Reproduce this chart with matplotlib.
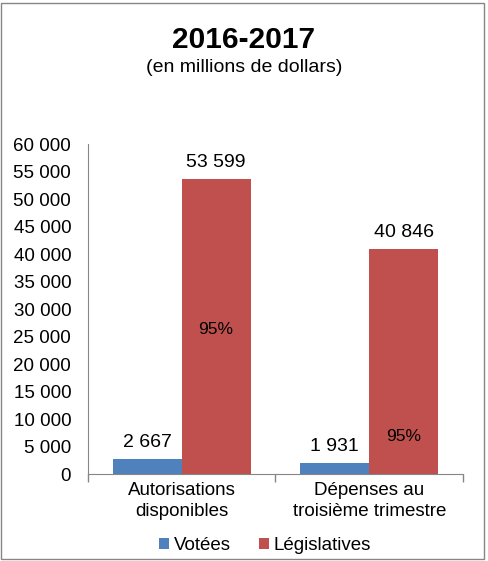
import matplotlib
matplotlib.use('Agg')
import matplotlib.pyplot as plt
from matplotlib.patches import Rectangle
import numpy as np

plt.rcParams['font.family'] = ['Liberation Sans', 'DejaVu Sans']

categories = ['Autorisations\ndisponibles', 'Dépenses au\ntroisième trimestre']
votees = [2667, 1931]
legislatives = [53599, 40846]
pct_labels = ['95%', '95%']
series_names = ['Votées', 'Législatives']

BLUE = '#4F81BD'
RED = '#C0504D'
GRAY = '#868686'


def fmt(v):
    return f'{v:,.0f}'.replace(',', ' ')


fig = plt.figure(figsize=(4.88, 5.61), dpi=100)
ax = fig.add_axes([0.180, 0.155, 0.769, 0.588])

x = np.arange(len(categories))
w = 0.367
b1 = ax.bar(x - w / 2, votees, w, color=BLUE, label=series_names[0])
b2 = ax.bar(x + w / 2, legislatives, w, color=RED, label=series_names[1])

ax.set_xlim(-0.5, len(categories) - 0.5)
ax.set_ylim(0, 60000)
ax.set_yticks(np.arange(0, 60001, 5000))
ax.set_yticklabels([fmt(v) for v in np.arange(0, 60001, 5000)], fontsize=13.5)
ax.tick_params(axis='y', length=0, pad=12)

ax.set_xticks(x)
ax.set_xticklabels(categories, fontsize=13.5, linespacing=1.3)
ax.tick_params(axis='x', length=0, pad=6)
ax.set_xticks(np.arange(-0.5, len(categories)), minor=True)
ax.tick_params(axis='x', which='minor', length=6, color=GRAY, width=1)

for s in ['top', 'right']:
    ax.spines[s].set_visible(False)
for s in ['left', 'bottom']:
    ax.spines[s].set_color(GRAY)

# value labels above bars
for xi, v in zip(x, votees):
    ax.annotate(fmt(v), (xi - w / 2, v), xytext=(0, 6), textcoords='offset points',
                ha='center', va='bottom', fontsize=14)
for xi, v in zip(x, legislatives):
    ax.annotate(fmt(v), (xi + w / 2, v), xytext=(0, 6), textcoords='offset points',
                ha='center', va='bottom', fontsize=14)

# percentage labels inside red bars
pct_frac = [0.49, 0.165]
for xi, v, lab, f in zip(x, legislatives, pct_labels, pct_frac):
    ax.text(xi + w / 2, v * f, lab, ha='center', va='center', fontsize=12.5)

fig.text(0.5, 0.929, '2016-2017', ha='center', va='center', fontsize=21.5, fontweight='bold')
fig.text(0.5, 0.879, '(en millions de dollars)', ha='center', va='center', fontsize=14)

fig.legend(handles=[b1, b2], loc='center', bbox_to_anchor=(0.543, 0.028), ncol=2,
           frameon=False, fontsize=13.5, handlelength=0.55, handleheight=0.55,
           handletextpad=0.25, columnspacing=1.5)

fig.patches.append(Rectangle((0.003, 0.004), 0.989, 0.99, transform=fig.transFigure,
                             fill=False, edgecolor=GRAY, linewidth=1))

fig.savefig('out.png', dpi=100)
